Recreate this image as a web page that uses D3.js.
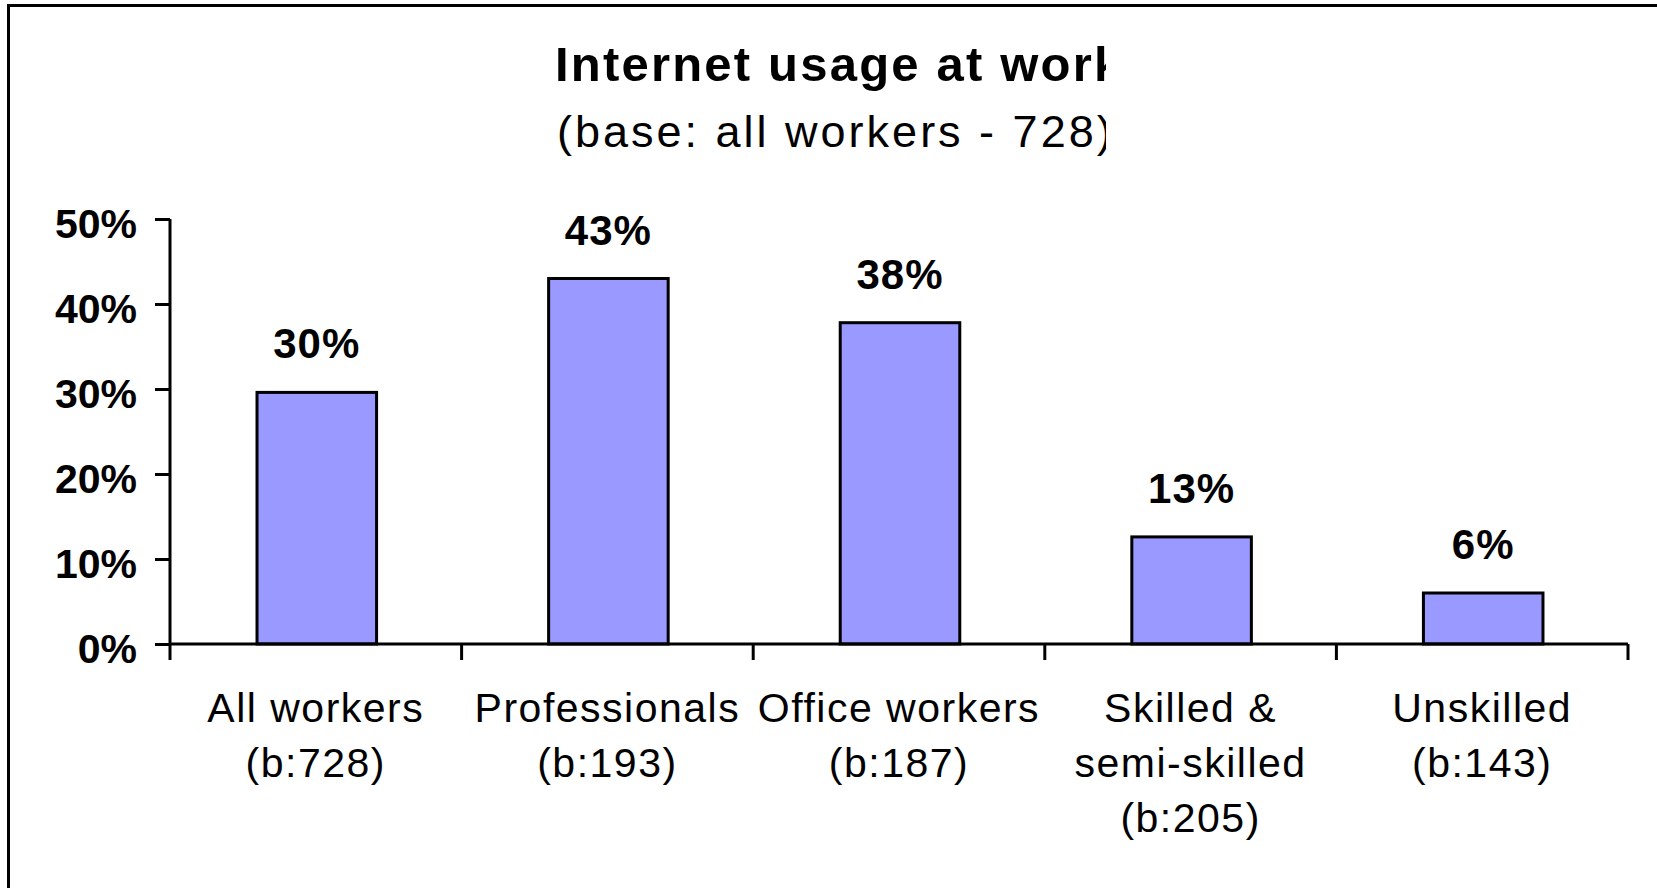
<!DOCTYPE html>
<html>
<head>
<meta charset="utf-8">
<script src="https://cdn.jsdelivr.net/npm/d3@7"></script>
<style>
  html, body { margin: 0; padding: 0; background: #fff; }
  svg { display: block; }
  text { font-family: "Liberation Sans", Arial, sans-serif; fill: #000; }
</style>
</head>
<body>
<svg id="chart" width="1657" height="888"></svg>
<script>
// ---- data ----
const categories = ["All workers", "Professionals", "Office workers", "Skilled & semi-skilled", "Unskilled"];
const categoryLines = [
  ["All workers", "(b:728)"],
  ["Professionals", "(b:193)"],
  ["Office workers", "(b:187)"],
  ["Skilled &", "semi-skilled", "(b:205)"],
  ["Unskilled", "(b:143)"]
];
const values = [0.296, 0.43, 0.378, 0.126, 0.06];
const valueLabels = ["30%", "43%", "38%", "13%", "6%"];
const yTicks = [0, 0.1, 0.2, 0.3, 0.4, 0.5];
const titleText = "Internet usage at work";
const subtitleText = "(base: all workers - 728)";

// ---- layout ----
const svg = d3.select("#chart");

// outer frame (extends past right/bottom edges)
svg.append("rect")
  .attr("x", 8.5).attr("y", 5.5)
  .attr("width", 1700).attr("height", 1000)
  .attr("fill", "#fff").attr("stroke", "#000").attr("stroke-width", 3);

// title (clipped on the right as in the reference)
const defs = svg.append("defs");
defs.append("clipPath").attr("id", "titleClip")
  .append("rect").attr("x", 0).attr("y", 0).attr("width", 1106).attr("height", 200);
const tg = svg.append("g").attr("clip-path", "url(#titleClip)");
tg.append("text")
  .attr("x", 555).attr("y", 81)
  .attr("font-size", 49).attr("font-weight", "bold")
  .attr("letter-spacing", 2.2)
  .text(titleText);
tg.append("text")
  .attr("x", 557).attr("y", 147)
  .attr("font-size", 45)
  .attr("letter-spacing", 3)
  .text(subtitleText);

// scales
const x = d3.scaleBand().domain(categories).range([170, 1628]).paddingInner(0).paddingOuter(0);
const y = d3.scaleLinear().domain([0, 0.5]).range([644, 219]);
const barW = x.bandwidth() * 0.41;

// y axis
const yAxis = d3.axisLeft(y).tickValues(yTicks).tickFormat(d3.format(".0%")).tickSize(15).tickPadding(18);
const gy = svg.append("g").attr("transform", "translate(170,0)").call(yAxis);
gy.select(".domain").attr("stroke-width", 3).attr("d", `M0,${y(0.5)}V${y(0)}`);
gy.selectAll(".tick line").attr("stroke-width", 3);
gy.selectAll(".tick text")
  .attr("font-size", 41).attr("font-weight", "bold")
  .attr("font-family", "Liberation Sans, Arial, sans-serif")
  .attr("fill", "#000")
  .attr("dy", "0.45em");

// bars
svg.append("g").selectAll("rect").data(categories).join("rect")
  .attr("x", (d) => x(d) + (x.bandwidth() - barW) / 2 + 1)
  .attr("y", (d, i) => y(values[i]))
  .attr("width", barW)
  .attr("height", (d, i) => y(0) - y(values[i]))
  .attr("fill", "#9999FF")
  .attr("stroke", "#000").attr("stroke-width", 3);

// x axis line with category boundary ticks
const bounds = categories.map(c => x(c)).concat([x.range()[1]]);
const gx = svg.append("g");
gx.append("line").attr("x1", 170).attr("x2", 1628).attr("y1", y(0)).attr("y2", y(0))
  .attr("stroke", "#000").attr("stroke-width", 3);
gx.selectAll("line.b").data(bounds).join("line").attr("class", "b")
  .attr("x1", d => d).attr("x2", d => d)
  .attr("y1", y(0)).attr("y2", y(0) + 16)
  .attr("stroke", "#000").attr("stroke-width", 3);

// value labels
svg.append("g").selectAll("text").data(categories).join("text")
  .attr("x", d => x(d) + x.bandwidth() / 2 + 1)
  .attr("y", (d, i) => y(values[i]) - 34)
  .attr("text-anchor", "middle")
  .attr("font-size", 42).attr("font-weight", "bold")
  .attr("letter-spacing", 1)
  .text((d, i) => valueLabels[i]);

// category labels
const cl = svg.append("g").selectAll("text").data(categories).join("text")
  .attr("x", d => x(d) + x.bandwidth() / 2)
  .attr("y", 722)
  .attr("text-anchor", "middle")
  .attr("font-size", 41)
  .attr("letter-spacing", 1.5);
cl.each(function(d, i) {
  const t = d3.select(this);
  categoryLines[i].forEach((line, k) => {
    t.append("tspan").attr("x", x(d) + x.bandwidth() / 2).attr("dy", k === 0 ? 0 : 55).text(line);
  });
});
</script>
</body>
</html>
